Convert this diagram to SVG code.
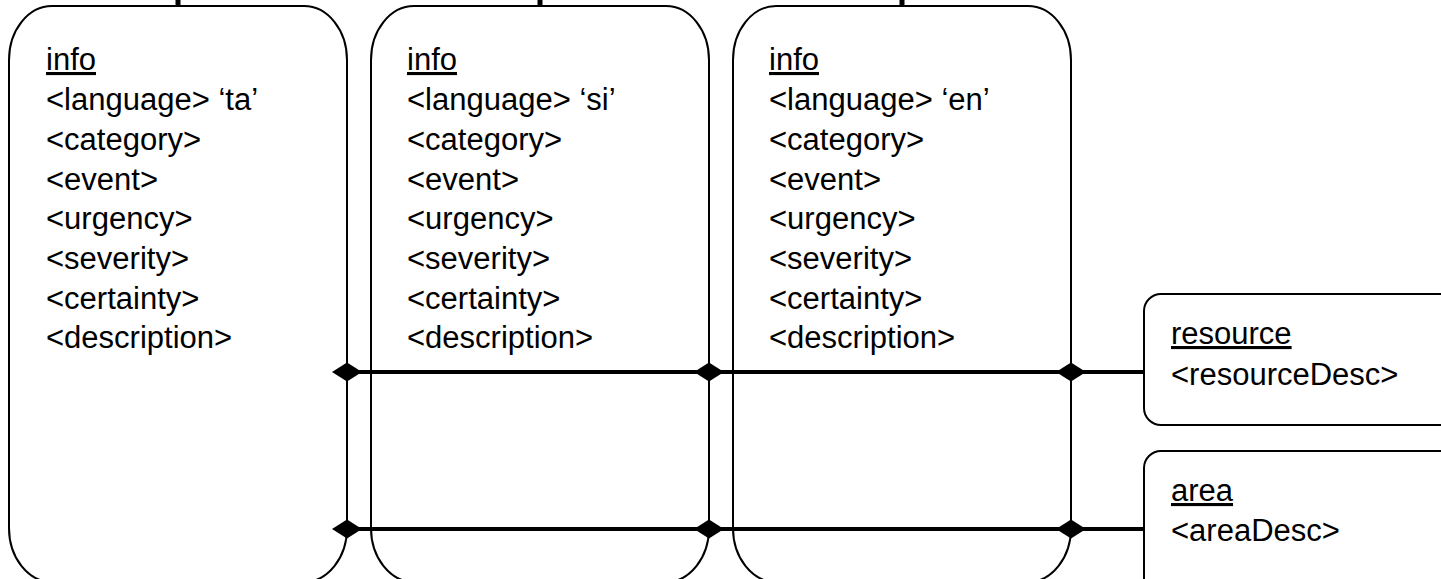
<svg xmlns="http://www.w3.org/2000/svg" width="1441" height="579" viewBox="0 0 1441 579">
  <style>
    .box { fill: #ffffff; stroke: #000000; stroke-width: 2; }
    .stub { stroke: #000000; stroke-width: 5; }
    .t { font-family: "Liberation Sans", Arial, sans-serif; font-size: 31px; fill: #000000; }
    .u { text-decoration: underline; }
    .conn { stroke: #000000; stroke-width: 4; fill: none; }
  </style>
  <defs>
    <marker id="diamond" markerUnits="userSpaceOnUse" markerWidth="30" markerHeight="19" refX="15" refY="9.5" orient="auto" overflow="visible">
      <path d="M0,9.5 L15,0 L30,9.5 L15,19 Z" fill="#000000"/>
    </marker>
  </defs>
  <rect width="1441" height="579" fill="#ffffff"/>

  <g id="info-ta">
    <line class="stub" x1="178" y1="-2" x2="178" y2="6"/>
    <rect class="box" x="9" y="6" width="338" height="576" rx="43" ry="54"/>
    <text class="t">
      <tspan class="u" x="46" y="70">info</tspan>
      <tspan x="46" y="110">&lt;language&gt; ‘ta’</tspan>
      <tspan x="46" y="150">&lt;category&gt;</tspan>
      <tspan x="46" y="190">&lt;event&gt;</tspan>
      <tspan x="46" y="229">&lt;urgency&gt;</tspan>
      <tspan x="46" y="269">&lt;severity&gt;</tspan>
      <tspan x="46" y="309">&lt;certainty&gt;</tspan>
      <tspan x="46" y="348">&lt;description&gt;</tspan>
    </text>
  </g>

  <g id="info-si">
    <line class="stub" x1="540" y1="-2" x2="540" y2="6"/>
    <rect class="box" x="371" y="6" width="338" height="576" rx="43" ry="54"/>
    <text class="t">
      <tspan class="u" x="407" y="70">info</tspan>
      <tspan x="407" y="110">&lt;language&gt; ‘si’</tspan>
      <tspan x="407" y="150">&lt;category&gt;</tspan>
      <tspan x="407" y="190">&lt;event&gt;</tspan>
      <tspan x="407" y="229">&lt;urgency&gt;</tspan>
      <tspan x="407" y="269">&lt;severity&gt;</tspan>
      <tspan x="407" y="309">&lt;certainty&gt;</tspan>
      <tspan x="407" y="348">&lt;description&gt;</tspan>
    </text>
  </g>

  <g id="info-en">
    <line class="stub" x1="902" y1="-2" x2="902" y2="6"/>
    <rect class="box" x="733" y="6" width="338" height="576" rx="43" ry="54"/>
    <text class="t">
      <tspan class="u" x="769" y="70">info</tspan>
      <tspan x="769" y="110">&lt;language&gt; ‘en’</tspan>
      <tspan x="769" y="150">&lt;category&gt;</tspan>
      <tspan x="769" y="190">&lt;event&gt;</tspan>
      <tspan x="769" y="229">&lt;urgency&gt;</tspan>
      <tspan x="769" y="269">&lt;severity&gt;</tspan>
      <tspan x="769" y="309">&lt;certainty&gt;</tspan>
      <tspan x="769" y="348">&lt;description&gt;</tspan>
    </text>
  </g>

  <g id="resource">
    <rect class="box" x="1144" y="294" width="330" height="131" rx="17" ry="17"/>
    <text class="t">
      <tspan class="u" x="1171" y="344">resource</tspan>
      <tspan x="1171" y="385">&lt;resourceDesc&gt;</tspan>
    </text>
  </g>

  <g id="area">
    <rect class="box" x="1144" y="451" width="330" height="160" rx="17" ry="17"/>
    <text class="t">
      <tspan class="u" x="1171" y="501">area</tspan>
      <tspan x="1171" y="541">&lt;areaDesc&gt;</tspan>
    </text>
  </g>

  <g id="connectors">
    <path class="conn" d="M347,372 L709,372" marker-start="url(#diamond)"/>
    <path class="conn" d="M709,372 L1071,372" marker-start="url(#diamond)"/>
    <path class="conn" d="M1071,372 L1144,372" marker-start="url(#diamond)"/>
    <path class="conn" d="M347,529 L709,529" marker-start="url(#diamond)"/>
    <path class="conn" d="M709,529 L1071,529" marker-start="url(#diamond)"/>
    <path class="conn" d="M1071,529 L1144,529" marker-start="url(#diamond)"/>
  </g>
</svg>
